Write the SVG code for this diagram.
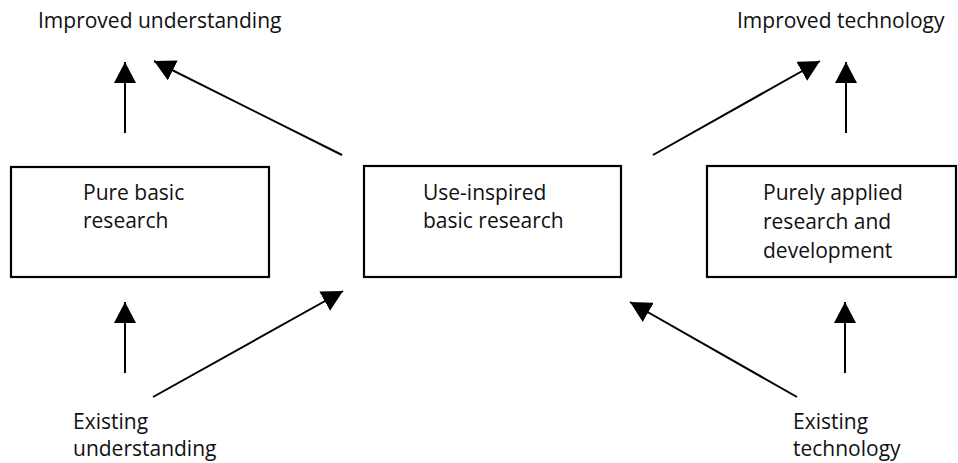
<svg xmlns="http://www.w3.org/2000/svg" width="958" height="463" viewBox="0 0 958 463">
  <style>
    .box { fill: #fff; stroke: #000; stroke-width: 2.2; }
    .lbl { font-family: "Open Sans", "Liberation Sans", sans-serif; font-size: 21px; fill: #111; }
    .arr { stroke: #000; stroke-width: 2; fill: none; marker-end: url(#head); }
  </style>
  <defs>
    <marker id="head" markerUnits="userSpaceOnUse" markerWidth="22" markerHeight="22" refX="20" refY="10.5" orient="auto" viewBox="0 0 21 21">
      <path d="M0,0 L20,10.5 L0,21 z" fill="#000"/>
    </marker>
  </defs>

  <rect width="958" height="463" fill="#fff"/>

  <!-- outcome labels -->
  <g id="improved-understanding">
    <text class="lbl" x="38" y="28">Improved understanding</text>
  </g>
  <g id="improved-technology">
    <text class="lbl" x="737" y="28">Improved technology</text>
  </g>

  <!-- research quadrants -->
  <g id="pure-basic">
    <rect class="box" x="11" y="167" width="258" height="110"/>
    <text class="lbl" x="83" y="200">Pure basic</text>
    <text class="lbl" x="83" y="228">research</text>
  </g>
  <g id="use-inspired">
    <rect class="box" x="364" y="166" width="257" height="111"/>
    <text class="lbl" x="423" y="200">Use-inspired</text>
    <text class="lbl" x="423" y="228">basic research</text>
  </g>
  <g id="purely-applied">
    <rect class="box" x="707" y="166" width="249" height="111"/>
    <text class="lbl" x="763" y="200">Purely applied</text>
    <text class="lbl" x="763" y="229">research and</text>
    <text class="lbl" x="763" y="258">development</text>
  </g>

  <!-- inputs -->
  <g id="existing-understanding">
    <text class="lbl" x="73" y="429">Existing</text>
    <text class="lbl" x="73" y="456">understanding</text>
  </g>
  <g id="existing-technology">
    <text class="lbl" x="793" y="429">Existing</text>
    <text class="lbl" x="793" y="456">technology</text>
  </g>

  <!-- connectors -->
  <g id="connectors">
    <line class="arr" x1="125" y1="133" x2="125" y2="62"/>
    <line class="arr" x1="342" y1="155" x2="154" y2="61"/>
    <line class="arr" x1="653" y1="155" x2="820" y2="61"/>
    <line class="arr" x1="846" y1="133" x2="846" y2="62"/>
    <line class="arr" x1="125" y1="373" x2="125" y2="302"/>
    <line class="arr" x1="153" y1="397" x2="343" y2="291"/>
    <line class="arr" x1="797" y1="397" x2="630" y2="302"/>
    <line class="arr" x1="845" y1="373" x2="845" y2="302"/>
  </g>
</svg>
